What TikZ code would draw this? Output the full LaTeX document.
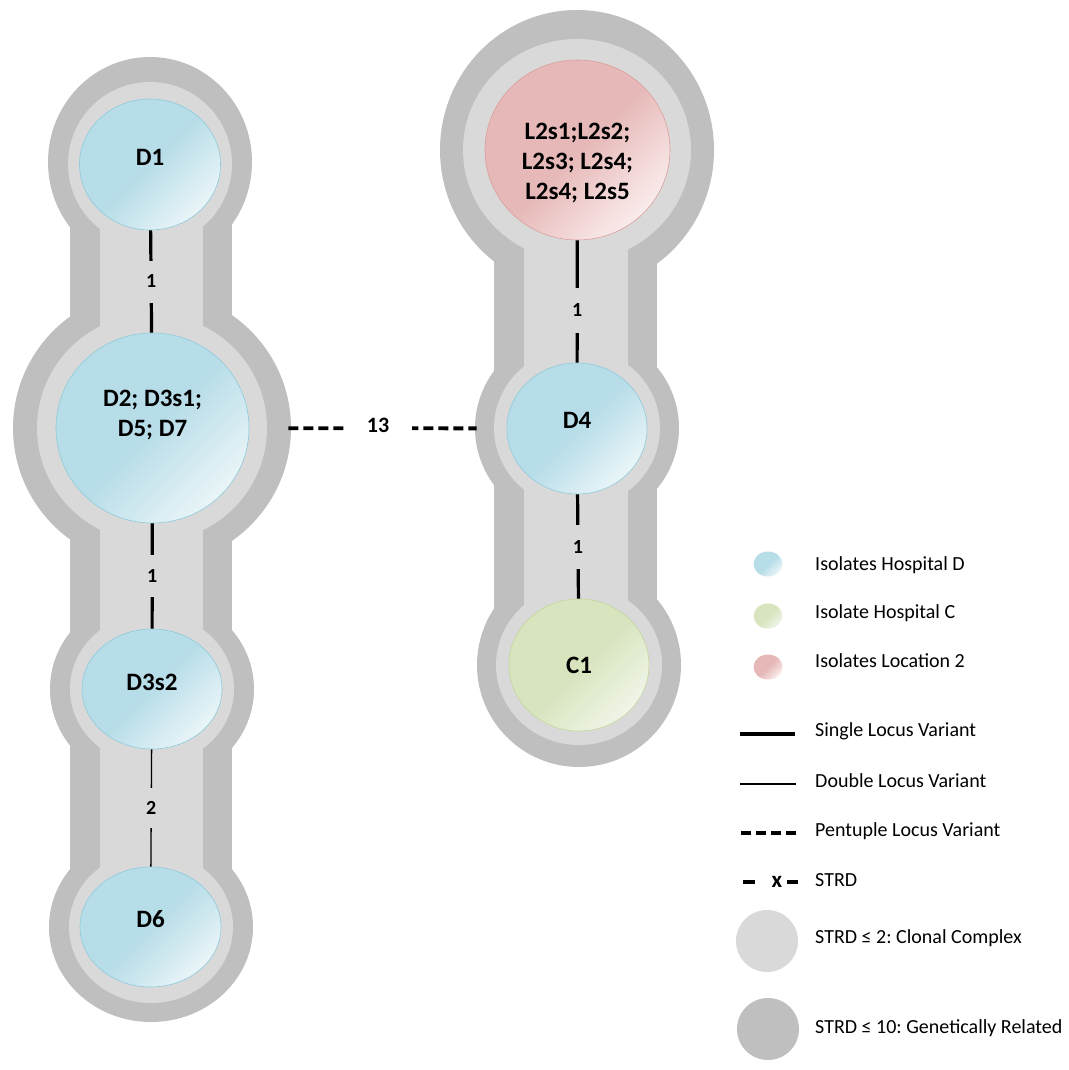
\documentclass[tikz,border=0pt]{standalone}
\usepackage{fontspec}
\setmainfont{Carlito}
\frenchspacing
\usetikzlibrary{shapes.geometric}
\definecolor{hullD}{HTML}{BFBFBF}
\definecolor{hullL}{HTML}{D9D9D9}
\definecolor{blueA}{HTML}{B7DDE8}
\definecolor{blueB}{HTML}{EAF5F8}
\definecolor{blueE}{HTML}{8ECADB}
\definecolor{pinkA}{HTML}{E6B8B7}
\definecolor{pinkB}{HTML}{FAECEC}
\definecolor{pinkE}{HTML}{DA9E9C}
\definecolor{greenA}{HTML}{D7E4BD}
\definecolor{greenB}{HTML}{F0F5E8}
\definecolor{greenE}{HTML}{C4D79B}
\tikzset{
  iso/.style={ellipse, inner sep=0pt, line width=0.6pt},
  isoD/.style={iso, draw=blueE, top color=blueA, bottom color=blueB, middle color=blueA, shading angle=45},
  isoL/.style={iso, draw=pinkE, top color=pinkA, bottom color=pinkB, middle color=pinkA, shading angle=45},
  isoC/.style={iso, draw=greenE, top color=greenA, bottom color=greenB, middle color=greenA, shading angle=45},
  nlbl/.style={font=\fontsize{25}{30}\selectfont\bfseries, align=center, text=black},
  elbl/.style={font=\fontsize{20}{22}\selectfont\bfseries, fill=hullL, inner sep=0pt, minimum width=14pt, minimum height=42pt},
  slv/.style={line width=3.2pt, black},
  dlv/.style={line width=1.3pt, black},
  plv/.style={line width=3.8pt, black, dash pattern=on 10pt off 5pt},
  legtxt/.style={anchor=west, font=\fontsize{20}{22}\selectfont, inner sep=0pt},
  legiso/.style={ellipse, inner sep=0pt, minimum width=29pt, minimum height=25pt}
}
\begin{document}
\begin{tikzpicture}[x=1pt,y=-1pt]
\useasboundingbox (0,0) rectangle (1068,1070);
% ---------- hulls: left group ----------
\fill[hullD] (150,162) ellipse [x radius=102, y radius=105];
\fill[hullD] (152,428) ellipse [x radius=139, y radius=138];
\fill[hullD] (152,689) ellipse [x radius=102, y radius=95];
\fill[hullD] (151,927) ellipse [x radius=102, y radius=95];
\fill[hullD] (70,164) rectangle (232,927);
\fill[hullL] (150,164) ellipse [x radius=82, y radius=82];
\fill[hullL] (152,428) ellipse [x radius=115, y radius=114];
\fill[hullL] (152,689) ellipse [x radius=82, y radius=76];
\fill[hullL] (151,927) ellipse [x radius=82, y radius=76];
\fill[hullL] (100,164) rectangle (203,927);
% ---------- hulls: right group ----------
\fill[hullD] (577,150) ellipse [x radius=137, y radius=140];
\fill[hullD] (577,428) ellipse [x radius=102, y radius=98];
\fill[hullD] (579,665) ellipse [x radius=102, y radius=102];
\fill[hullD] (494,150) rectangle (657,665);
\fill[hullL] (577,150) ellipse [x radius=114, y radius=111];
\fill[hullL] (577,428) ellipse [x radius=83, y radius=80];
\fill[hullL] (579,665) ellipse [x radius=83, y radius=80];
\fill[hullL] (524,150) rectangle (628,665);
% ---------- isolate nodes ----------
\node[isoD, minimum width=141pt, minimum height=131pt,
  label={[nlbl,yshift=7pt]center:D1}] (d1) at (150,164.5) {};
\node[isoD, minimum width=193pt, minimum height=190pt,
  label={[nlbl,yshift=13pt]center:D2; D3s1;\\D5; D7}] (d2) at (152.5,428) {};
\node[isoD, minimum width=140pt, minimum height=120pt,
  label={[nlbl,yshift=7pt]center:D3s2}] (d3) at (152,689) {};
\node[isoD, minimum width=141pt, minimum height=120pt,
  label={[nlbl,yshift=8pt]center:D6}] (d6) at (150.5,927) {};
\node[isoL, minimum width=185pt, minimum height=180pt,
  label={[nlbl,yshift=-13pt]center:L2s1;L2s2;\\L2s3; L2s4;\\L2s4; L2s5}] (l2) at (577.5,150) {};
\node[isoD, minimum width=140pt, minimum height=131pt,
  label={[nlbl,yshift=8pt]center:D4}] (d4) at (577,428.5) {};
\node[isoC, minimum width=140pt, minimum height=132pt,
  label={[nlbl]center:C1}] (c1) at (579,665) {};
% ---------- connectors ----------
\draw[slv] (d1) -- node[elbl]{1} (d2);
\draw[slv] (d2) -- node[elbl]{1} (d3);
\draw[dlv] (d3) -- node[elbl, minimum height=40pt]{2} (d6);
\draw[slv] (l2) -- node[elbl, pos=0.57, minimum height=45pt]{1} (d4);
\draw[slv] (d4) -- node[elbl, minimum height=44pt]{1} (c1);
\draw[plv, shorten <=39pt, shorten >=30pt] (d2) -- node[elbl, fill=white, minimum width=68pt, minimum height=20pt, font=\fontsize{22}{24}\selectfont\bfseries, yshift=3pt]{13} (d4);
% ---------- legend ----------
\node[legiso, top color=blueA, bottom color=blueB, middle color=blueA, shading angle=45] (lgD) at (768,564) {};
\node[legtxt] (tD) at (815,565) {Isolates Hospital D};
\node[legiso, top color=greenA, bottom color=greenB, middle color=greenA, shading angle=45] (lgC) at (768,616) {};
\node[legtxt] (tC) at (815,613) {Isolate Hospital C};
\node[legiso, top color=pinkA, bottom color=pinkB, middle color=pinkA, shading angle=45] (lgL) at (768,667) {};
\node[legtxt] (tL) at (815,661) {Isolates Location 2};
\coordinate (s1) at (740,734); \coordinate (s2) at (795,734);
\draw[slv] (s1) -- (s2);
\node[legtxt] (tS) at (815,731) {Single Locus Variant};
\coordinate (dd1) at (740,784); \coordinate (dd2) at (796,784);
\draw[dlv] (dd1) -- (dd2);
\node[legtxt] (tDL) at (815,781) {Double Locus Variant};
\coordinate (p1) at (741,833); \coordinate (p2) at (797,833);
\draw[line width=3.8pt, dash pattern=on 10pt off 5pt] (p1) -- (p2);
\node[legtxt] (tP) at (815,831) {Pentuple Locus Variant};
\coordinate (x1) at (743,882); \coordinate (x2) at (755,882);
\coordinate (x3) at (787,882); \coordinate (x4) at (798,882);
\draw[line width=3.8pt] (x1) -- (x2) (x3) -- (x4);
\node[font=\fontsize{23}{24}\selectfont\bfseries, inner sep=0pt] (xx) at (777,882) {x};
\node[legtxt] (tX) at (815,880) {STRD};
\node[circle, fill=hullL, minimum size=62pt, inner sep=0pt] (lgCC) at (767,941) {};
\node[legtxt] (tCC) at (815,938) {STRD ≤ 2: Clonal Complex};
\node[circle, fill=hullD, minimum size=62pt, inner sep=0pt] (lgGR) at (768,1029) {};
\node[legtxt] (tGR) at (815,1028) {STRD ≤ 10: Genetically Related};
\end{tikzpicture}
\end{document}
